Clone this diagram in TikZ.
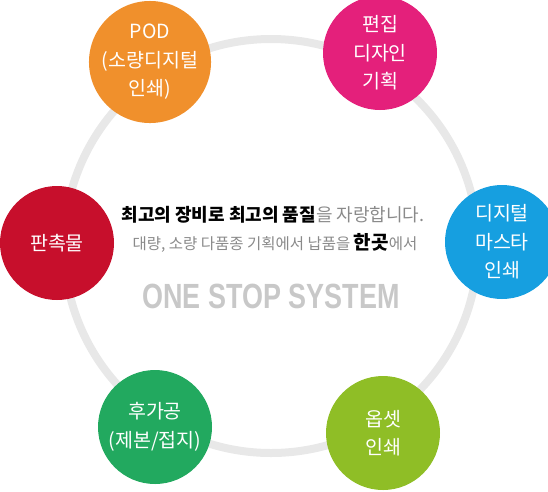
\documentclass[tikz,border=0pt]{standalone}
\usepackage{fontspec}
\setmainfont{Noto Sans CJK KR}
\newfontfamily\anchafont[FakeStretch=0.77]{Liberation Sans}

\definecolor{anillo}{HTML}{E8E8E8}
\definecolor{gristexto}{HTML}{8A8A8A}
\definecolor{grislogo}{HTML}{C8C8C8}
\definecolor{naranja}{HTML}{F0902C}
\definecolor{rosa}{HTML}{E4207B}
\definecolor{rojo}{HTML}{C70F2C}
\definecolor{azul}{HTML}{169FE0}
\definecolor{verde}{HTML}{22A95F}
\definecolor{lima}{HTML}{8FBE26}

\tikzset{
  bola/.style={circle, minimum size=114pt, inner sep=0pt, text=white,
    align=center, font=\fontsize{19.5}{28.5}\selectfont}
}

\begin{document}
\begin{tikzpicture}[x=1pt, y=-1pt]
        % Marco
        \useasboundingbox (0, 0) rectangle (548, 491);

        % Anillo
        \draw[anillo, line width=8pt] (271, 246) circle (207);

        % Bolas
        \node[bola, fill=naranja] (pod) at (150, 62) {POD\\(소량디지털\\인쇄)};
        \node[bola, fill=rosa] (edicion) at (380, 53) {편집\\디자인\\기획};
        \node[bola, fill=rojo] (promo) at (57, 243) {판촉물};
        \node[bola, fill=azul] (digital) at (502, 242) {디지털\\마스타\\인쇄};
        \node[bola, fill=verde] (acabado) at (155, 427) {후가공\\(제본/접지)};
        \node[bola, fill=lima] (offset) at (383, 433) {옵셋\\인쇄};

        % Textos del centro
        \node[font=\fontsize{18}{20}\selectfont] (lema) at (273, 215)
          {{\bfseries\color{black}최고의 장비로 최고의 품질}{\color{gristexto}을 자랑합니다.}};
        \node[font=\fontsize{15.5}{20}\selectfont, text=gristexto] (sublema) at (275, 243)
          {대량, 소량 다품종 기획에서 납품을 {\fontsize{19}{20}\selectfont\bfseries\color{black}한곳}에서};
        \node[font=\anchafont\fontsize{35}{40}\selectfont\bfseries, text=grislogo] (logo) at (271, 296)
          {ONE STOP SYSTEM};

    \end{tikzpicture}
\end{document}
